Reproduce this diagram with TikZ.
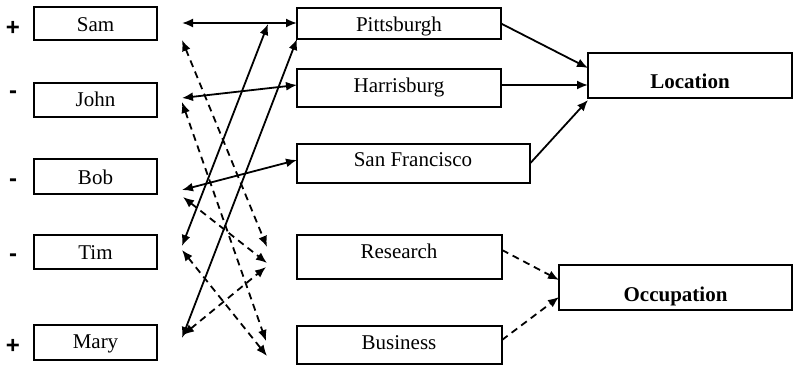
\documentclass[tikz,border=0pt]{standalone}
\usepackage{fontspec}
\setmainfont{Liberation Serif}
\newfontfamily\signfont{Liberation Sans}
\usetikzlibrary{arrows.meta}
\begin{document}
\begin{tikzpicture}[x=1pt,y=-1pt,
  box/.style={draw,line width=1.9pt,inner sep=0pt,outer sep=0pt,anchor=north west},
  lbl/.style={font=\fontsize{21}{24}\selectfont,inner sep=0pt,anchor=base},
  blbl/.style={font=\fontsize{21}{24}\selectfont\bfseries,inner sep=0pt,anchor=base},
  sgn/.style={font=\signfont\bfseries\fontsize{24}{26}\selectfont,inner sep=0pt},
  dbl/.style={line width=1.8pt,{Latex[length=11pt,width=9pt]}-{Latex[length=11pt,width=9pt]}},
  one/.style={line width=1.8pt,-{Latex[length=11pt,width=9pt]}},
  dsh/.style={dash pattern=on 7pt off 5pt}
]
\useasboundingbox (0,0) rectangle (794,366);

% left boxes
\node[box,minimum width=123pt,minimum height=33pt] (sam)  at (34,7)   {};
\node[box,minimum width=123pt,minimum height=34pt] (john) at (34,83)  {};
\node[box,minimum width=123pt,minimum height=35pt] (bob)  at (34,159) {};
\node[box,minimum width=123pt,minimum height=34pt] (tim)  at (34,235) {};
\node[box,minimum width=123pt,minimum height=35pt] (mary) at (34,325) {};
\node[lbl] (samt)  at (95.5,32)  {Sam};
\node[lbl] (johnt) at (95.5,107) {John};
\node[lbl] (bobt)  at (95.5,184) {Bob};
\node[lbl] (timt)  at (95.5,259) {Tim};
\node[lbl] (maryt) at (95.5,348) {Mary};

% signs
\node[sgn] (s1) at (13,28)  {+};
\node[sgn] (s2) at (13,95)  {-};
\node[sgn] (s3) at (13,183) {-};
\node[sgn] (s4) at (13,258) {-};
\node[sgn] (s5) at (13,346) {+};

% middle boxes
\node[box,minimum width=204pt,minimum height=31pt] (pitt)  at (297,8)   {};
\node[box,minimum width=204pt,minimum height=38pt] (harr)  at (297,69)  {};
\node[box,minimum width=233pt,minimum height=39pt] (sf)    at (297,144) {};
\node[box,minimum width=205pt,minimum height=44pt] (res)   at (297,235) {};
\node[box,minimum width=205pt,minimum height=38pt] (bus)   at (297,326) {};
\node[lbl] (pittt) at (399,32)  {Pittsburgh};
\node[lbl] (harrt) at (399,93)  {Harrisburg};
\node[lbl] (sft)   at (413,167) {San Francisco};
\node[lbl] (rest)  at (399,258) {Research};
\node[lbl] (bust)  at (399,349) {Business};

% right boxes
\node[box,minimum width=204pt,minimum height=45pt] (loc) at (588,53)  {};
\node[box,minimum width=233pt,minimum height=45pt] (occ) at (559,265) {};
\node[blbl] (loct) at (690,89)  {Location};
\node[blbl] (occt) at (675.5,301) {Occupation};

% free connector ends
\coordinate (samA) at (182,23);   \coordinate (samD) at (182,40);
\coordinate (johnA) at (182,98);  \coordinate (johnD) at (182,102);
\coordinate (bobA) at (182,190);  \coordinate (bobD) at (183,197);
\coordinate (timA) at (182,246);  \coordinate (timD) at (182,250);
\coordinate (maryA) at (182,338); \coordinate (maryD) at (183,335);
\coordinate (pittW) at (297,23);  \coordinate (pittM) at (268,24);
\coordinate (harrW) at (297,85);  \coordinate (sfW) at (297,160);
\coordinate (resA) at (267,247);  \coordinate (resB) at (267,263);
\coordinate (resC) at (266,267);
\coordinate (busA) at (266,341);  \coordinate (busB) at (267,356);
\coordinate (harrE) at (502,85);
\coordinate (locA) at (588,68);   \coordinate (locB) at (588,85);
\coordinate (locC) at (588,100);
\coordinate (resE) at (502,250);  \coordinate (busE) at (502,340);
\coordinate (occA) at (559,280);  \coordinate (occB) at (559,297);

% solid double arrows
\draw[dbl] (samA) -- (pittW);
\draw[dbl] (johnA) -- (harrW);
\draw[dbl] (bobA) -- (sfW);
\draw[dbl] (timA) -- (pittM);
\draw[dbl] (maryA) -- (pitt.south west);

% dashed double arrows
\draw[dbl,dsh] (samD) -- (resA);
\draw[dbl,dsh] (johnD) -- (busA);
\draw[dbl,dsh] (bobD) -- (resB);
\draw[dbl,dsh] (timD) -- (busB);
\draw[dbl,dsh] (maryD) -- (resC);

% to Location
\draw[one] (pitt.east) -- (locA);
\draw[one] (harrE) -- (locB);
\draw[one] (sf.east) -- (locC);

% to Occupation
\draw[one,dsh] (resE) -- (occA);
\draw[one,dsh] (busE) -- (occB);
\end{tikzpicture}
\end{document}
